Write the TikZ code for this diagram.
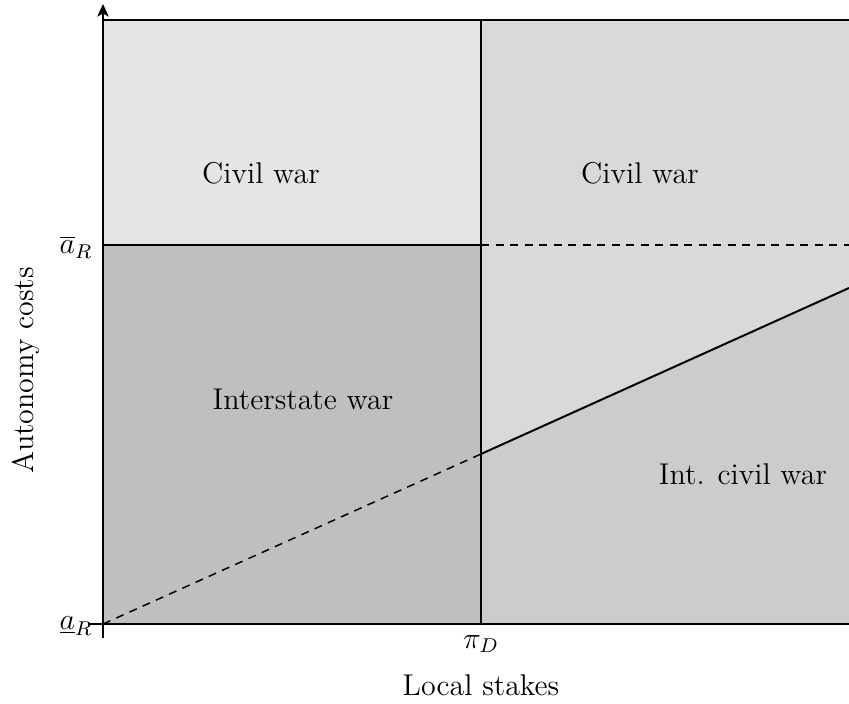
\documentclass[tikz,border=0pt]{standalone}
\usetikzlibrary{arrows.meta}
\definecolor{ctl}{HTML}{E5E5E5}
\definecolor{cbl}{HTML}{BFBFBF}
\definecolor{ctr}{HTML}{D9D9D9}
\definecolor{cbr}{HTML}{CCCCCC}
\tikzset{
  lbl/.style={anchor=base, inner sep=0pt, font=\fontsize{12}{14}\selectfont},
  tick/.style={anchor=east, inner sep=0pt, font=\fontsize{12}{14}\selectfont},
  edge/.style={line width=0.8pt},
  dsh/.style={line width=0.6pt, dash pattern=on 3.2pt off 2.6pt}
}
\begin{document}
\begin{tikzpicture}[x=0.4pt, y=-0.4pt]
\useasboundingbox (0,0) rectangle (849,703);
% coordinates
\coordinate (tl) at (103,20);
\coordinate (tm) at (481,20);
\coordinate (tr) at (849,20);
\coordinate (ml) at (103,245);
\coordinate (mm) at (481,245);
\coordinate (mr) at (849,245);
\coordinate (bl) at (103,624);
\coordinate (bm) at (481,624);
\coordinate (br) at (849,624);
\coordinate (km) at (481,454);
\coordinate (kr) at (849,288);
\coordinate (axb) at (103,638);
\coordinate (axt) at (103,4);
\coordinate (xl) at (88,624);
% fills
\fill[ctl] (tl) rectangle (mm);
\fill[cbl] (ml) rectangle (bm);
\fill[ctr] (tm) rectangle (br);
\fill[cbr] (km) -- (kr) -- (br) -- (bm) -- cycle;
% lines
\draw[edge] (tl) -- (tr);
\draw[edge] (xl) -- (br);
\draw[edge] (tm) -- (bm);
\draw[edge] (ml) -- (mm);
\draw[dsh] (mm) -- (mr);
\draw[dsh] (bl) -- (km);
\draw[edge] (km) -- (kr);
\draw[edge, -{Stealth[length=5pt, width=4.5pt, inset=1.2pt]}] (axb) -- (axt);
% labels
\node[lbl] (c1) at (261,183) {Civil war};
\node[lbl] (c2) at (640,183) {Civil war};
\node[lbl] (iw) at (303,409) {Interstate war};
\node[lbl] (ic) at (743,484) {Int. civil war};
\node[lbl] (xs) at (481,695) {Local stakes};
\node[lbl, rotate=90] (ys) at (33,370) {Autonomy costs};
\node[tick] (ah) at (93,247) {$\overline{a}_R$};
\node[tick] (al) at (93,626) {$\underline{a}_R$};
\node[lbl] (pd) at (481,648) {$\pi_D$};
\end{tikzpicture}
\end{document}
